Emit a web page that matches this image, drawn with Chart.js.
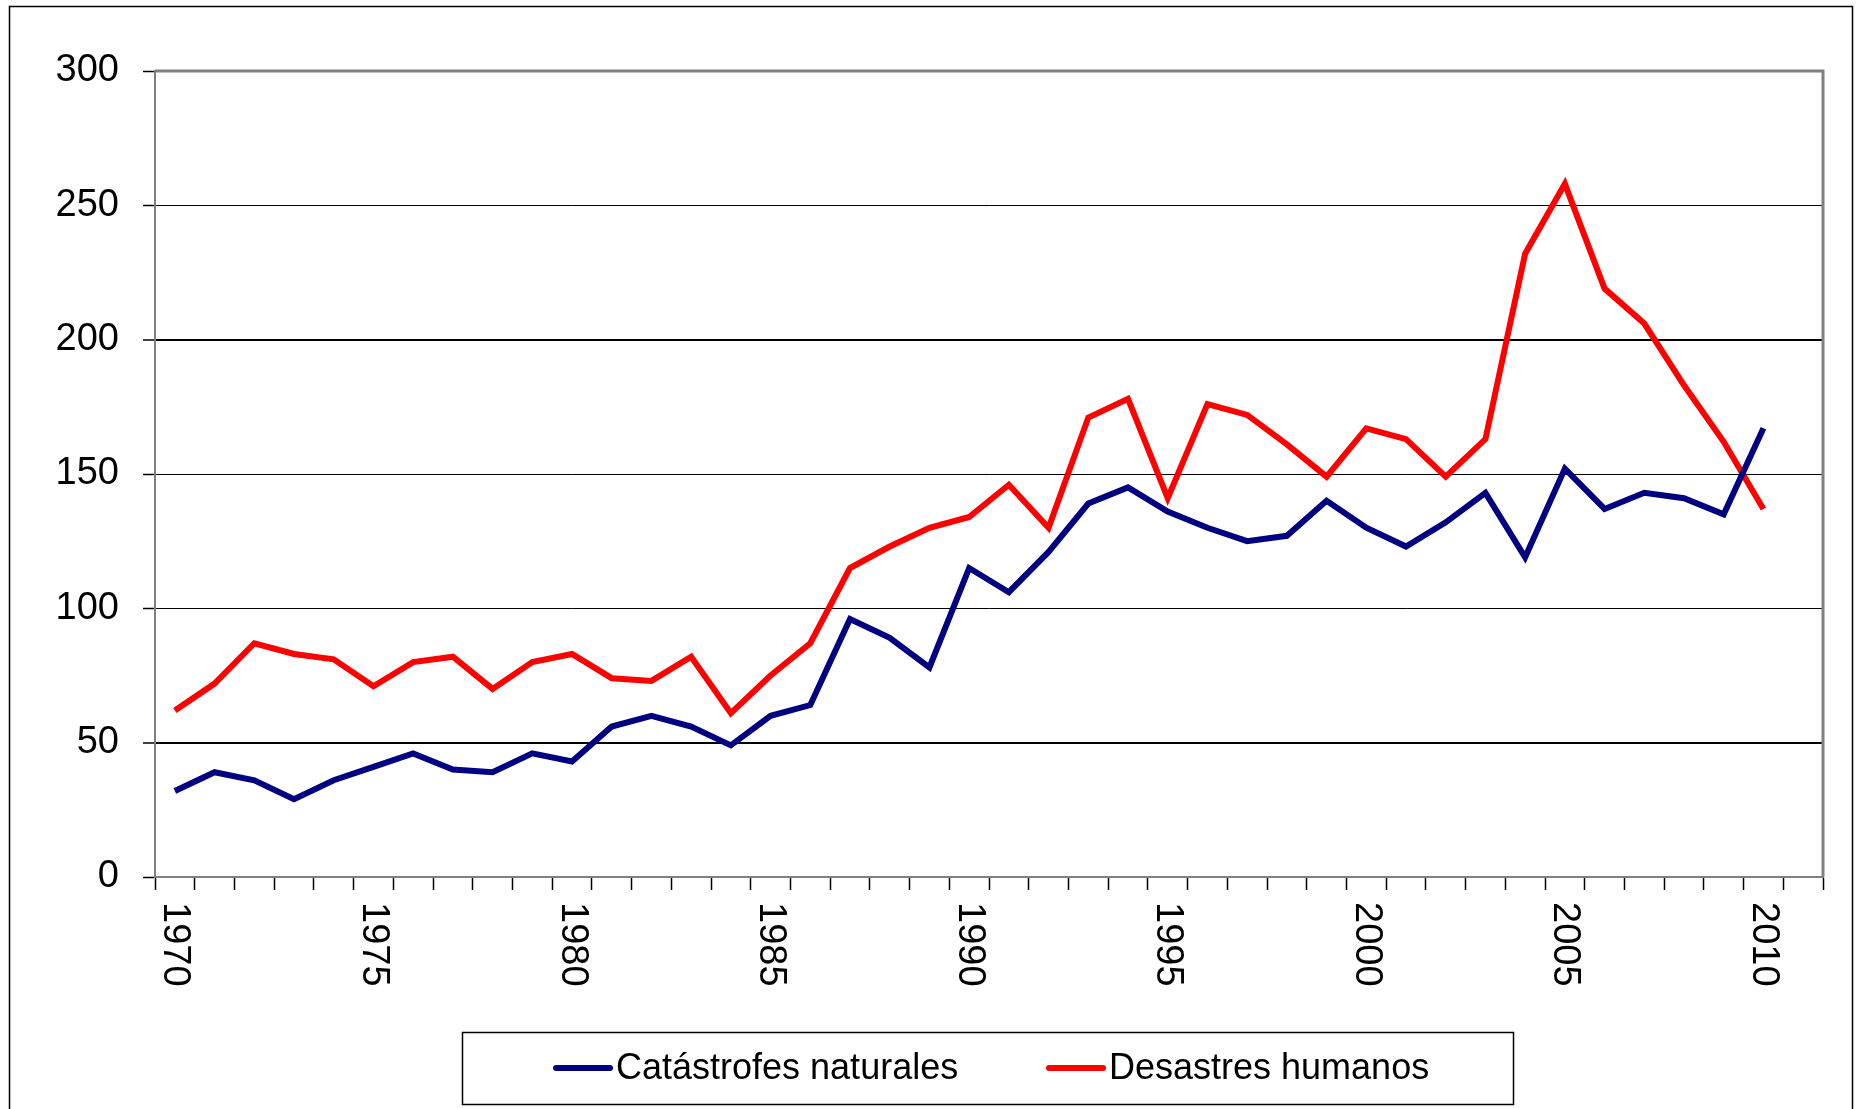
<!DOCTYPE html>
<html>
<head>
<meta charset="utf-8">
<script src="https://cdn.jsdelivr.net/npm/chart.js@4.4.1/dist/chart.umd.min.js"></script>
<style>
  html, body { margin: 0; padding: 0; background: #ffffff; }
  #wrap { width: 1856px; height: 1109px; position: relative; }
</style>
</head>
<body>
<div id="wrap"><canvas id="c" width="1856" height="1109"></canvas></div>
<script>
// Years on the category axis (the last slot is left empty)
const years = ['1970','1971','1972','1973','1974','1975','1976','1977','1978','1979',
               '1980','1981','1982','1983','1984','1985','1986','1987','1988','1989',
               '1990','1991','1992','1993','1994','1995','1996','1997','1998','1999',
               '2000','2001','2002','2003','2004','2005','2006','2007','2008','2009',
               '2010','2011'];
// Year labels printed under the axis
const yearLabels = ['1970','1975','1980','1985','1990','1995','2000','2005','2010'];

// Number of events per year
const naturales = [32,39,36,29,36,41,46,40,39,46,
                   43,56,60,56,49,60,64,96,89,78,
                   115,106,121,139,145,136,130,125,127,140,
                   130,123,132,143,119,152,137,143,141,135,
                   167,null];
const humanos   = [62,72,87,83,81,71,80,82,70,80,
                   83,74,73,82,61,75,87,115,123,130,
                   134,146,130,171,178,141,176,172,161,149,
                   167,163,149,163,232,258,219,206,183,162,
                   137,null];

const seriesNames = ['Catástrofes naturales', 'Desastres humanos'];
const yMin = 0, yMax = 300, yStep = 50;

const FONT = "'Liberation Sans', Arial, sans-serif";
Chart.defaults.font.family = FONT;
Chart.defaults.font.size = 38;
Chart.defaults.color = '#000';

// Frame, rotated year labels and boxed legend
const decor = {
  id: 'decor',
  beforeDatasetsDraw(chart) {
    const {ctx, chartArea: a} = chart;
    ctx.save();
    ctx.strokeStyle = '#808080';
    ctx.lineWidth = 3;
    ctx.beginPath();
    ctx.moveTo(a.left, a.top);
    ctx.lineTo(a.right, a.top);
    ctx.lineTo(a.right, a.bottom);
    ctx.stroke();
    ctx.restore();
  },
  afterDraw(chart) {
    const {ctx, chartArea: a} = chart;
    const xs = chart.scales.x;
    ctx.save();
    // outer border
    ctx.strokeStyle = '#000';
    ctx.lineWidth = 1.5;
    ctx.beginPath();
    ctx.moveTo(9.5, 1109);
    ctx.lineTo(9.5, 6.5);
    ctx.lineTo(1852.5, 6.5);
    ctx.lineTo(1852.5, 1109);
    ctx.stroke();

    // year labels, rotated clockwise
    ctx.font = '38px ' + FONT;
    ctx.fillStyle = '#000';
    ctx.textAlign = 'left';
    ctx.textBaseline = 'middle';
    yearLabels.forEach(l => {
      const px = xs.getPixelForValue(years.indexOf(l));
      ctx.save();
      ctx.translate(px, a.bottom + 25);
      ctx.rotate(Math.PI / 2);
      ctx.fillText(l, 0, 0);
      ctx.restore();
    });

    // legend
    ctx.font = '36px ' + FONT;
    ctx.lineWidth = 1.5;
    ctx.strokeStyle = '#000';
    ctx.strokeRect(462.5, 1032.5, 1051, 72);
    const entries = [{x1: 556, x2: 610, tx: 616}, {x1: 1049, x2: 1103, tx: 1109}];
    const ly = 1068;
    chart.data.datasets.forEach((ds, i) => {
      const e = entries[i];
      ctx.strokeStyle = ds.borderColor;
      ctx.lineWidth = 6;
      ctx.lineCap = 'round';
      ctx.beginPath();
      ctx.moveTo(e.x1, ly);
      ctx.lineTo(e.x2, ly);
      ctx.stroke();
      ctx.fillStyle = '#000';
      ctx.fillText(ds.label, e.tx, ly + 1);
    });
    ctx.restore();
  }
};

new Chart(document.getElementById('c'), {
  type: 'line',
  data: {
    labels: years,
    datasets: [
      { label: seriesNames[0], data: naturales, borderColor: '#000080', backgroundColor: '#000080',
        borderWidth: 6, pointRadius: 0, tension: 0, fill: false },
      { label: seriesNames[1], data: humanos, borderColor: '#ff0000', backgroundColor: '#ff0000',
        borderWidth: 6, pointRadius: 0, tension: 0, fill: false }
    ]
  },
  options: {
    responsive: false,
    animation: false,
    devicePixelRatio: 1,
    layout: { padding: { left: 0, top: 71, right: 33, bottom: 0 } },
    plugins: { legend: { display: false }, tooltip: { enabled: false }, title: { display: false } },
    scales: {
      x: {
        type: 'category',
        offset: true,
        grid: { display: true, drawOnChartArea: false, drawTicks: true, tickLength: 13,
                offset: true, tickColor: '#000', tickWidth: 1.5 },
        border: { display: true, color: '#808080', width: 2 },
        ticks: { display: false, autoSkip: false },
        afterFit(scale) { scale.height = 232; }
      },
      y: {
        min: yMin, max: yMax,
        grid: {
          drawTicks: true, tickLength: 12, tickColor: '#000', tickWidth: 1.5,
          color: ctx => ctx.tick && ctx.tick.value === yMax ? 'rgba(0,0,0,0)' : '#000',
          lineWidth: ctx => (ctx.tick && (ctx.tick.value === 200 || ctx.tick.value === 50)) ? 2 : 1
        },
        border: { display: true, color: '#808080', width: 2 },
        ticks: { stepSize: yStep, padding: 24, color: '#000', font: { size: 38 } },
        afterFit(scale) { scale.width = 155; }
      }
    }
  },
  plugins: [decor]
});
</script>
</body>
</html>
